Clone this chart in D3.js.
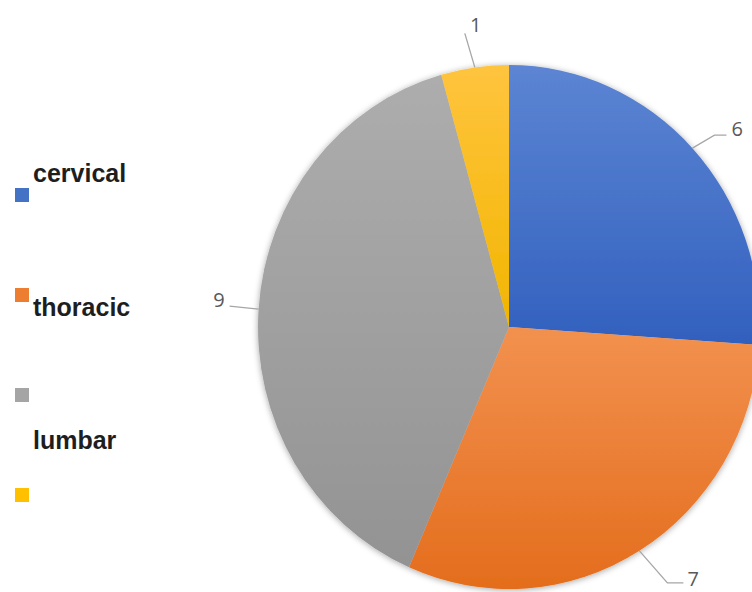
<!DOCTYPE html>
<html>
<head>
<meta charset="utf-8">
<script src="https://cdn.jsdelivr.net/npm/d3@7"></script>
<style>
  body { margin: 0; background: #fff; }
  svg { display: block; }
</style>
</head>
<body>
<script>
// chart data
var categories = ["cervical", "thoracic", "lumbar", ""];
var counts = [6, 7, 9, 1];
var colors = ["#4472c4", "#ed7d31", "#a5a5a5", "#ffc000"];
var lightColors = ["#5c85d3", "#f2914f", "#adadad", "#ffc43e"];
var darkColors = ["#3260be", "#e46d1d", "#939393", "#f2b500"];

var width = 752, height = 592;
var cx = 509, cy = 327;
var rx = 251, ry = 262, r = 256;

var svg = d3.select("body").append("svg")
  .attr("width", width).attr("height", height);

var defs = svg.append("defs");
var shadow = defs.append("filter").attr("id", "shadow")
  .attr("x", "-10%").attr("y", "-10%").attr("width", "120%").attr("height", "120%");
shadow.append("feDropShadow")
  .attr("dx", 0).attr("dy", 1).attr("stdDeviation", 3)
  .attr("flood-color", "#000").attr("flood-opacity", 0.35);

colors.forEach(function(c, i) {
  var g = defs.append("linearGradient").attr("id", "grad" + i)
    .attr("x1", 0).attr("y1", 0).attr("x2", 0).attr("y2", 1);
  g.append("stop").attr("offset", "0%").attr("stop-color", lightColors[i]);
  g.append("stop").attr("offset", "100%").attr("stop-color", darkColors[i]);
});

var pie = d3.pie().sort(null).value(function(d) { return d; });
var arcs = pie(counts);
var arc = d3.arc().innerRadius(0).outerRadius(r);

// the pie is a bit taller than wide in the picture
var pieG = svg.append("g")
  .attr("transform", "translate(" + cx + "," + cy + ") scale(" + (rx / r) + "," + (ry / r) + ")");

pieG.append("g").attr("filter", "url(#shadow)")
  .selectAll("path")
  .data(arcs)
  .enter().append("path")
  .attr("d", arc)
  .attr("fill", function(d, i) { return "url(#grad" + i + ")"; });

// data labels with leader lines, starting on the rim at the mid angle
function rimPoint(d) {
  var a = (d.startAngle + d.endAngle) / 2;
  return [cx + rx * Math.sin(a), cy - ry * Math.cos(a)];
}
// leader path offsets from the rim point, and label placement
var leaders = [
  {pts: [[22, -13], [34, -13]], tx: 39, ty: -12, anchor: "start"},
  {pts: [[28, 32], [44, 32]], tx: 48, ty: 35, anchor: "start"},
  {pts: [[-29, -3]], tx: -34, ty: -2, anchor: "end"},
  {pts: [[-10, -34]], tx: 1, ty: -35, anchor: "middle"}
];

var labels = svg.append("g");
arcs.forEach(function(d, i) {
  var p = rimPoint(d);
  var L = leaders[i];
  var pts = [p].concat(L.pts.map(function(o) { return [p[0] + o[0], p[1] + o[1]]; }));
  labels.append("path")
    .attr("d", d3.line()(pts))
    .attr("fill", "none")
    .attr("stroke", "#a6a6a6")
    .attr("stroke-width", 1.3);
  labels.append("text")
    .attr("x", p[0] + L.tx).attr("y", p[1] + L.ty)
    .attr("text-anchor", L.anchor)
    .style("font-family", "'Open Sans', sans-serif")
    .style("font-size", "20px")
    .style("fill", "#595959")
    .text(d.data);
});

// legend: squares every 100px, labels placed oddly as in the picture
var legendY = d3.scaleLinear().domain([0, 1]).range([188, 288]);
var legend = svg.append("g");
legend.selectAll("rect")
  .data(colors)
  .enter().append("rect")
  .attr("x", 15)
  .attr("y", function(d, i) { return legendY(i); })
  .attr("width", 14).attr("height", 14)
  .attr("fill", function(d) { return d; });

var labelDy = [-6, 28, 61, 0];
legend.selectAll("text")
  .data(categories)
  .enter().append("text")
  .attr("x", 33)
  .attr("y", function(d, i) { return legendY(i) + labelDy[i]; })
  .style("font-family", "'Liberation Sans', Arial, sans-serif")
  .style("font-weight", "bold")
  .style("font-size", "25px")
  .style("fill", "#1e1e1e")
  .text(function(d) { return d; });
</script>
</body>
</html>
